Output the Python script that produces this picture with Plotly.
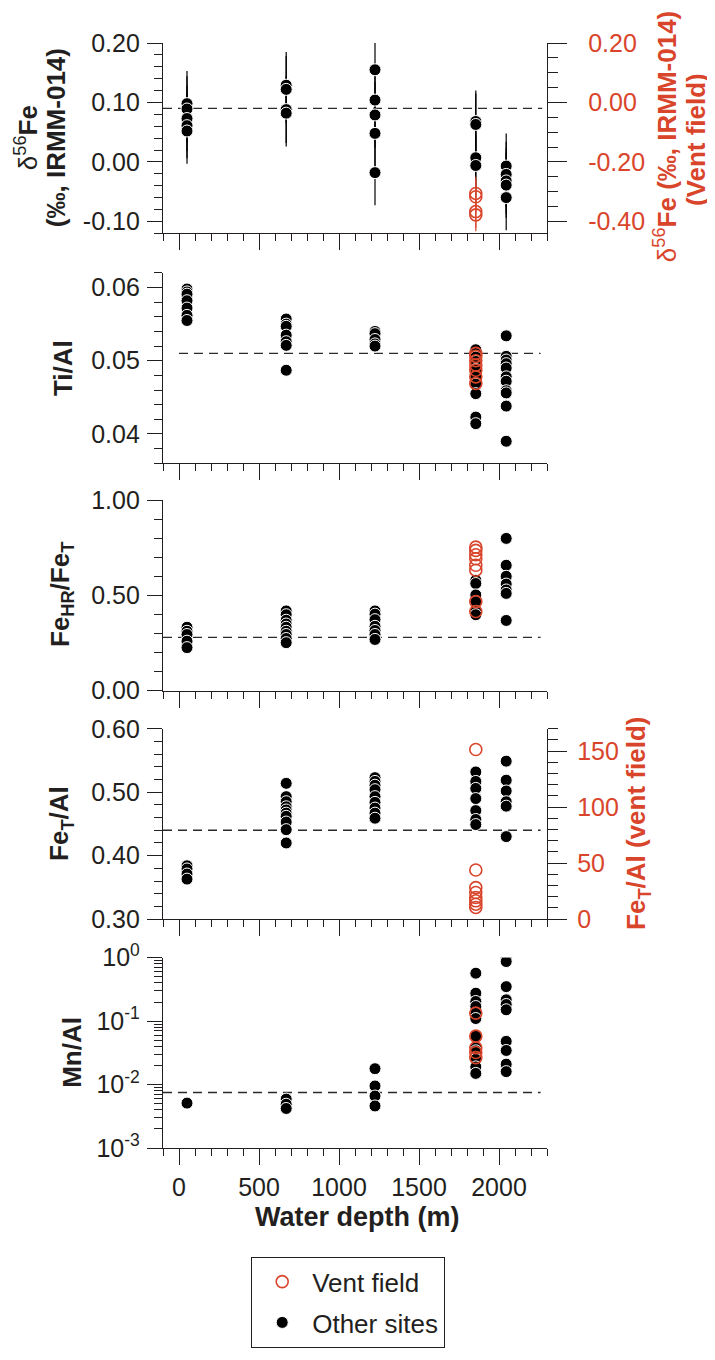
import plotly.graph_objects as go

# ---------------- data ----------------
SITE_DEPTH = [50, 670, 1225, 1855, 2045]
VENT_DEPTH = 1855

# Panel 1: d56Fe (per mil, IRMM-014)
D56FE_OTHER = [
    [0.098, 0.089, 0.073, 0.061, 0.052],
    [0.129, 0.122, 0.088, 0.082],
    [0.155, 0.104, 0.079, 0.048, -0.018],
    [0.068, 0.063, 0.007, -0.006],
    [-0.007, -0.021, -0.032, -0.039, -0.060],
]
D56FE_OTHER_ERR = [0.055, 0.056, 0.055, 0.052, 0.055]
D56FE_VENT = [-0.306, -0.317, -0.367, -0.378]          # right axis
D56FE_VENT_ERR = [0.056, 0.056, 0.056, 0.055]

# Panel 2: Ti/Al
TIAL_OTHER = [
    [0.0598, 0.0594, 0.0591, 0.0582, 0.0572, 0.0562, 0.0555],
    [0.0557, 0.0550, 0.0547, 0.0535, 0.0526, 0.0521, 0.0487],
    [0.0540, 0.0537, 0.0529, 0.0523, 0.0520],
    [0.0515, 0.0510, 0.0505, 0.0499, 0.0488, 0.0478, 0.0468, 0.0455, 0.0423, 0.0414],
    [0.0534, 0.0506, 0.0501, 0.0496, 0.0490, 0.0478, 0.0472, 0.0459, 0.0456, 0.0438, 0.0390],
]
TIAL_VENT = [0.0510, 0.0506, 0.0500, 0.0494, 0.0487, 0.0478, 0.0469]

# Panel 3: FeHR/FeT
FEHR_OTHER = [
    [0.333, 0.312, 0.295, 0.260, 0.226],
    [0.419, 0.399, 0.370, 0.350, 0.333, 0.312, 0.295, 0.274, 0.252],
    [0.419, 0.402, 0.373, 0.338, 0.316, 0.295, 0.269],
    [0.580, 0.563, 0.503, 0.468, 0.416, 0.399],
    [0.800, 0.659, 0.601, 0.560, 0.529, 0.511, 0.369],
]
FEHR_VENT = [0.754, 0.737, 0.714, 0.693, 0.659, 0.633, 0.468, 0.416]

# Panel 4: FeT/Al
FETAL_OTHER = [
    [0.384, 0.379, 0.371, 0.363],
    [0.514, 0.493, 0.485, 0.477, 0.472, 0.467, 0.462, 0.453, 0.441, 0.420],
    [0.523, 0.517, 0.511, 0.504, 0.493, 0.484, 0.475, 0.467, 0.459],
    [0.532, 0.517, 0.506, 0.490, 0.471, 0.457, 0.449],
    [0.549, 0.519, 0.502, 0.485, 0.478, 0.430],
]
FETAL_VENT = [151.5, 43.8, 28.1, 23.7, 19.3, 16.3, 13.3, 10.4]   # right axis

# Panel 5: Mn/Al
MNAL_OTHER = [
    [0.0051],
    [0.0059, 0.0049, 0.0042],
    [0.0178, 0.0095, 0.0066, 0.0046],
    [0.57, 0.276, 0.204, 0.17, 0.133, 0.11, 0.058, 0.038, 0.034, 0.025, 0.019, 0.015],
    [1.0, 0.87, 0.35, 0.217, 0.183, 0.151, 0.048, 0.0345, 0.021, 0.016],
]
MNAL_VENT = [0.134, 0.058, 0.038, 0.032, 0.0266]

# Reference (dashed) lines per panel
REF_VALUES = [0.09, 0.051, 0.28, 0.44, 0.0075]
REF_X_START = [-100, 0, -100, -100, -100]
REF_X_END = [2270, 2260, 2260, 2260, 2260]

# Ticks
X_TICKS = [0, 500, 1000, 1500, 2000]
X_TEXT = ["0", "500", "1000", "1500", "2000"]
Y1_TICKS = [-0.10, 0.00, 0.10, 0.20]
Y1_TEXT = ["-0.10", "0.00", "0.10", "0.20"]
Y1R_TICKS = [-0.40, -0.20, 0.00, 0.20]
Y1R_TEXT = ["-0.40", "-0.20", "0.00", "0.20"]
Y2_TICKS = [0.04, 0.05, 0.06]
Y2_TEXT = ["0.04", "0.05", "0.06"]
Y3_TICKS = [0.0, 0.5, 1.0]
Y3_TEXT = ["0.00", "0.50", "1.00"]
Y4_TICKS = [0.3, 0.4, 0.5, 0.6]
Y4_TEXT = ["0.30", "0.40", "0.50", "0.60"]
Y4R_TICKS = [0, 50, 100, 150]
Y4R_TEXT = ["0", "50", "100", "150"]
Y5_TICKS = [0.001, 0.01, 0.1, 1]
Y5_TEXT = ["10<sup>-3</sup>", "10<sup>-2</sup>", "10<sup>-1</sup>", "10<sup>0</sup>"]

# ---------------- style ----------------
INK = "#231f20"
RED = "#d9452b"
FONT = "Liberation Sans, Arial, sans-serif"
OFF = 8                      # page body margin
W, H = 707, 1352
# page-pixel geometry of the plot area
PAGE_L, PAGE_R, PAGE_T, PAGE_B = 163, 547, 43, 1158
ML = PAGE_L - OFF
MT = PAGE_T - OFF
MR = W - (PAGE_R - OFF)
MB = H - (PAGE_B - OFF)
PW = W - ML - MR
PH = H - MT - MB


def px_x(px):
    return (px - PAGE_L) / PW


def px_y(py):
    return (PAGE_B - py) / PH


def ydom(top_px, bot_px):
    return [px_y(bot_px), px_y(top_px)]


DOMAINS = [ydom(43, 235), ydom(275, 467), ydom(504.5, 696.5), ydom(735, 927), ydom(966, 1158)]


def expand(groups):
    xs, ys = [], []
    for d, g in zip(SITE_DEPTH, groups):
        xs += [d] * len(g)
        ys += list(g)
    return xs, ys


def expand_err(groups, errs):
    out = []
    for g, e in zip(groups, errs):
        out += [e] * len(g)
    return out


fig = go.Figure()
BLACK_MARKER = dict(color="black", size=12, line=dict(color="white", width=1))
RED_MARKER = dict(color=RED, size=12, symbol="circle-open", line=dict(color=RED, width=1.6))

panels = [
    (D56FE_OTHER, D56FE_VENT, "x", "y", "y6"),
    (TIAL_OTHER, TIAL_VENT, "x2", "y2", "y2"),
    (FEHR_OTHER, FEHR_VENT, "x3", "y3", "y3"),
    (FETAL_OTHER, FETAL_VENT, "x4", "y4", "y7"),
    (MNAL_OTHER, MNAL_VENT, "x5", "y5", "y5"),
]

# dashed reference lines
for i, (oth, vent, xa, ya, yv) in enumerate(panels):
    fig.add_trace(go.Scatter(
        x=[REF_X_START[i], REF_X_END[i]], y=[REF_VALUES[i], REF_VALUES[i]],
        mode="lines", line=dict(color="#2a2a2a", width=1.3, dash="9px,6px"),
        xaxis=xa, yaxis=ya, showlegend=False, hoverinfo="skip"))

# other sites
for i, (oth, vent, xa, ya, yv) in enumerate(panels):
    xs, ys = expand(oth)
    kw = {}
    if i == 0:
        kw["error_y"] = dict(type="data", array=expand_err(oth, D56FE_OTHER_ERR),
                             color="black", thickness=1.2, width=0)
    fig.add_trace(go.Scatter(
        x=xs, y=ys, mode="markers", marker=BLACK_MARKER, name="Other sites",
        legendgroup="other", legendrank=2, showlegend=(i == 0),
        xaxis=xa, yaxis=ya, **kw))

# vent field
for i, (oth, vent, xa, ya, yv) in enumerate(panels):
    kw = {}
    if i == 0:
        kw["error_y"] = dict(type="data", array=D56FE_VENT_ERR,
                             color=RED, thickness=1.2, width=0)
    fig.add_trace(go.Scatter(
        x=[VENT_DEPTH] * len(vent), y=vent, mode="markers", marker=RED_MARKER,
        name="Vent field", legendgroup="vent", legendrank=1, showlegend=(i == 0),
        xaxis=xa, yaxis=yv, **kw))

AX = dict(showline=True, linecolor=INK, linewidth=1.3, ticks="outside", ticklen=15,
          tickwidth=1.3, tickcolor=INK, showgrid=False, zeroline=False,
          tickfont=dict(family=FONT, size=25, color=INK), mirror=False,
          ticklabelstandoff=2)


def minor(**kw):
    d = dict(ticks="outside", ticklen=8, tickwidth=1.3, tickcolor=INK, showgrid=False)
    d.update(kw)
    return d


layout = dict(
    width=W, height=H, margin=dict(l=ML, r=MR, t=MT, b=MB, pad=0),
    plot_bgcolor="white", paper_bgcolor="white",
    font=dict(family=FONT, color=INK),
    showlegend=True,
    legend=dict(x=px_x(251), y=px_y(1268), xanchor="left", yanchor="top",
                bordercolor=INK, borderwidth=1.2, bgcolor="white",
                font=dict(family=FONT, size=26, color=INK),
                tracegroupgap=4, traceorder="grouped", itemwidth=50),
)

xnames = ["xaxis", "xaxis2", "xaxis3", "xaxis4", "xaxis5"]
yanchors = ["y", "y2", "y3", "y4", "y5"]
for i in range(5):
    xd = dict(AX, range=[-100, 2300], tickmode="array", tickvals=X_TICKS, ticktext=X_TEXT,
              ticklen=16, ticklabelstandoff=1, minor=minor(dtick=100, tick0=0, ticklen=7),
              anchor=yanchors[i], domain=[0, 1], showticklabels=(i == 4))
    if i > 0:
        xd["matches"] = "x"
    layout[xnames[i]] = xd

layout["yaxis"] = dict(AX, domain=DOMAINS[0], anchor="x", range=[-0.12, 0.20],
                       tickmode="array", tickvals=Y1_TICKS, ticktext=Y1_TEXT,
                       minor=minor(dtick=0.02, tick0=0))
layout["yaxis6"] = dict(AX, overlaying="y", side="right", anchor="x", range=[-0.44, 0.20],
                        tickmode="array", tickvals=Y1R_TICKS, ticktext=Y1R_TEXT,
                        tickfont=dict(family=FONT, size=25, color=RED),
                        ticklen=19, ticklabelstandoff=16,
                        minor=minor(dtick=0.05, tick0=0, ticklen=10))
layout["yaxis2"] = dict(AX, domain=DOMAINS[1], anchor="x2", range=[0.036, 0.062],
                        tickmode="array", tickvals=Y2_TICKS, ticktext=Y2_TEXT,
                        minor=minor(dtick=0.002, tick0=0))
layout["yaxis3"] = dict(AX, domain=DOMAINS[2], anchor="x3", range=[0, 1.0],
                        tickmode="array", tickvals=Y3_TICKS, ticktext=Y3_TEXT,
                        minor=minor(dtick=0.1, tick0=0))
layout["yaxis4"] = dict(AX, domain=DOMAINS[3], anchor="x4", range=[0.30, 0.60],
                        tickmode="array", tickvals=Y4_TICKS, ticktext=Y4_TEXT,
                        minor=minor(dtick=0.02, tick0=0))
layout["yaxis7"] = dict(AX, overlaying="y4", side="right", anchor="x4", range=[0, 170],
                        tickmode="array", tickvals=Y4R_TICKS, ticktext=Y4R_TEXT,
                        tickfont=dict(family=FONT, size=25, color=RED),
                        ticklen=19, ticklabelstandoff=5,
                        minor=minor(dtick=10, tick0=0, ticklen=10))
MINOR_LOG = [k * 10 ** e for e in (-3, -2, -1) for k in range(2, 10)]
layout["yaxis5"] = dict(AX, domain=DOMAINS[4], anchor="x5", type="log", range=[-3, 0],
                        tickmode="array", tickvals=Y5_TICKS, ticktext=Y5_TEXT,
                        minor=minor(tickmode="array", tickvals=MINOR_LOG))

fig.update_layout(**layout)

# axis titles as annotations (page-pixel centres)
TFONT = dict(family=FONT, size=26, color=INK)
RFONT = dict(family=FONT, size=26, color=RED)
XFONT = dict(family=FONT, size=27, color=INK)
ann = [
    (26, 139, "δ<sup>56</sup><b>Fe</b>", TFONT, -90),
    (56, 139, "<b>(‰, IRMM-014)</b>", TFONT, -90),
    (63, 371, "<b>Ti/Al</b>", TFONT, -90),
    (61, 600, "<b>Fe<sub>HR</sub>/Fe<sub>T</sub></b>", TFONT, -90),
    (61, 831, "<b>Fe<sub>T</sub>/Al</b>", TFONT, -90),
    (72, 1062, "<b>Mn/Al</b>", TFONT, -90),
    (665, 138, "δ<sup>56</sup><b>Fe (‰, IRMM-014)</b>", RFONT, -90),
    (696, 141, "<b>(Vent field)</b>", RFONT, -90),
    (638, 831, "<b>Fe<sub>T</sub>/Al (vent field)</b>", RFONT, -90),
    (357, 1228, "<b>Water depth (m)</b>", XFONT, 0),
]
for x, y, t, f, a in ann:
    fig.add_annotation(x=px_x(x), y=px_y(y), xref="paper", yref="paper", text=t,
                       showarrow=False, font=f, textangle=a, xanchor="center",
                       yanchor="middle")

fig.write_html("out.html")
